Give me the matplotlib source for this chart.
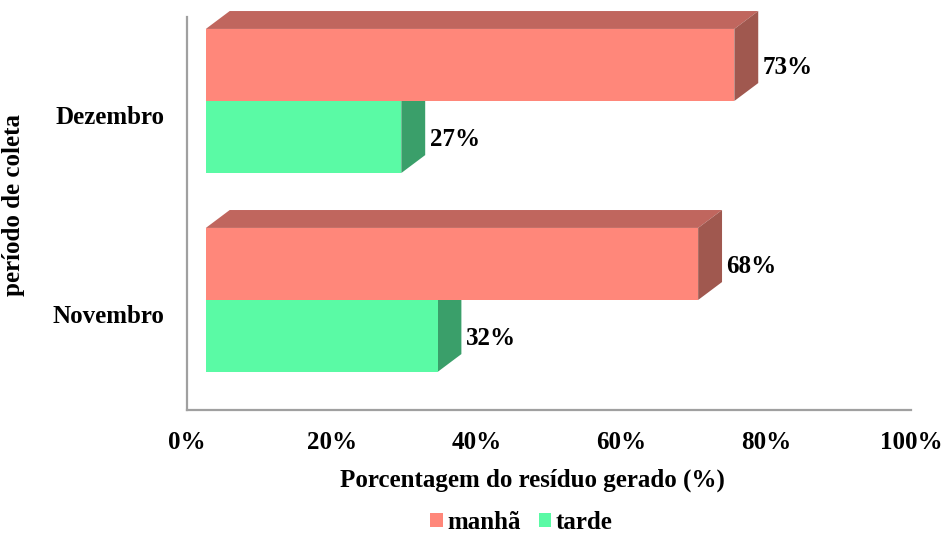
import numpy as np
import matplotlib.pyplot as plt
from matplotlib.patches import Polygon, Patch

# data
meses = ['Novembro', 'Dezembro']
manha = [68, 73]
tarde = [32, 27]
tick_vals = [0, 20, 40, 60, 80, 100]

plt.rcParams['font.family'] = ['Liberation Serif', 'DejaVu Serif']
plt.rcParams['font.weight'] = 'bold'

cor_manha = ('#ff877a', '#c0665e', '#a0584f')
cor_tarde = ('#5afaa5', '#3a9f6a', '#3a9f6a')

OFF = 2.6     # front face shift (in %)
DX = 3.3      # depth in x (%)
DY = 0.09     # depth in y (category units)
H = 0.362     # bar thickness


def bar3d(ax, y0, v, cores):
    front, top, side = cores
    x0, x1 = OFF, OFF + v
    y1 = y0 + H
    ax.add_patch(Polygon([(x0, y1), (x1, y1), (x1 + DX, y1 + DY), (x0 + DX, y1 + DY)],
                         closed=True, facecolor=top, lw=0, clip_on=False))
    ax.add_patch(Polygon([(x1, y0), (x1 + DX, y0 + DY), (x1 + DX, y1 + DY), (x1, y1)],
                         closed=True, facecolor=side, lw=0, clip_on=False))
    ax.add_patch(Polygon([(x0, y0), (x1, y0), (x1, y1), (x0, y1)],
                         closed=True, facecolor=front, lw=0, clip_on=False))
    ax.text(x1 + DX + 0.6, y0 + H / 2, f'{v}%', fontsize=18, fontweight='bold',
            va='center_baseline', ha='left')


fig = plt.figure(figsize=(9.43, 5.33), dpi=100)
ax = fig.add_axes([187 / 943, 123 / 533, 724 / 943, 393 / 533])

for i in range(len(meses)):
    bar3d(ax, i - H, tarde[i], cor_tarde)
    bar3d(ax, i, manha[i], cor_manha)

ax.set_xlim(0, 100)
ax.set_ylim(-0.553, 1.422)
ax.set_xticks(tick_vals)
ax.set_xticklabels([f'{t}%' for t in tick_vals], fontsize=18, fontweight='bold')
ax.set_yticks(np.arange(len(meses)) - 0.07)
ax.set_yticklabels(meses, fontsize=18, fontweight='bold')
ax.tick_params(axis='x', length=0, pad=15)
ax.tick_params(axis='y', length=0, pad=16)

for s in ['top', 'right']:
    ax.spines[s].set_visible(False)
for s in ['left', 'bottom']:
    ax.spines[s].set_color('#a0a0a0')
    ax.spines[s].set_linewidth(1.6)

ax.set_xlabel('Porcentagem do resíduo gerado (%)', fontsize=18, fontweight='bold', va='center')
ax.xaxis.set_label_coords(0.4765, -0.178)
ax.set_ylabel('período de coleta', fontsize=18, fontweight='bold', va='center')
ax.yaxis.set_label_coords(-0.239, 0.522)

handles = [Patch(facecolor=cor_manha[0], label='manhã'),
           Patch(facecolor=cor_tarde[0], label='tarde')]
fig.legend(handles=handles, loc='center', bbox_to_anchor=(0.553, 0.02), ncol=2,
           frameon=False, handlelength=0.5, handleheight=0.5, handletextpad=0.2,
           columnspacing=0.7, prop={'size': 18, 'weight': 'bold'})

fig.savefig('out.png', dpi=100)
